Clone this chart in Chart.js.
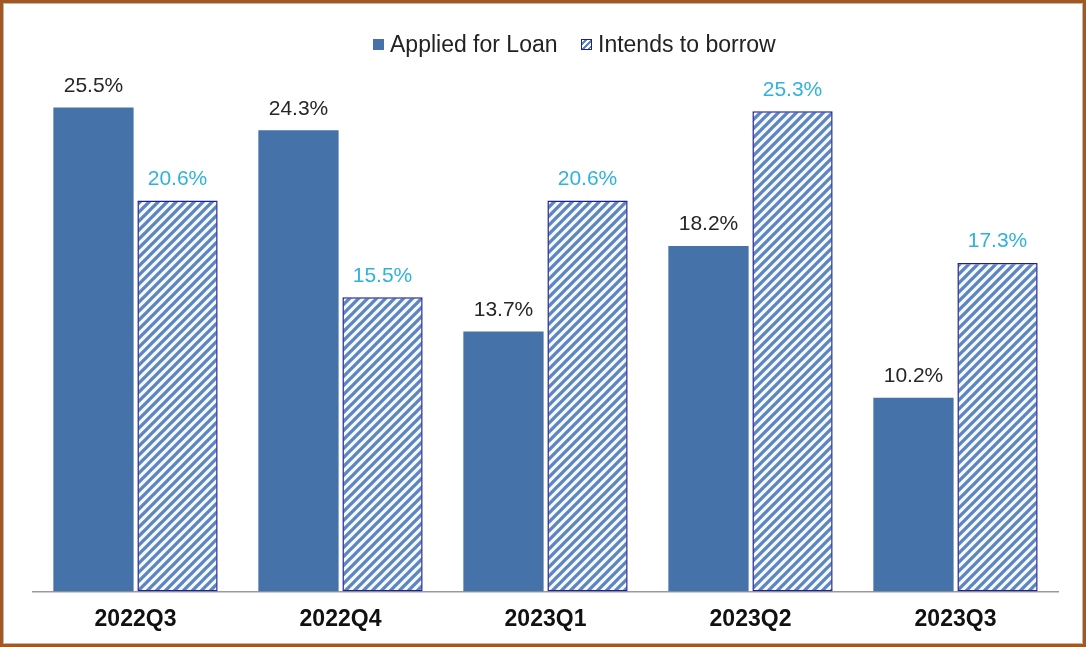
<!DOCTYPE html>
<html lang="en">
<head>
    <meta charset="UTF-8">
    <title>Loan applications and borrowing intentions</title>
    <style>
        html, body { margin: 0; padding: 0; background: #fff; }
        .frame {
            position: relative;
            width: 1086px;
            height: 647px;
            overflow: hidden;
            font-family: "Liberation Sans", Arial, sans-serif;
        }
        .frame canvas { position: absolute; left: 0; top: 0; }
        .border {
            position: absolute; left: 0; top: 0; right: 0; bottom: 0;
            border: 3px solid #a4581f;
            box-shadow: inset 0 0 0 1px #b8b8b8;
            pointer-events: none;
        }
        .legend-item {
            position: absolute;
            top: 31px;
            display: flex;
            align-items: center;
            font-size: 23px;
            color: #222;
            white-space: nowrap;
        }
        .legend-item .swatch {
            display: inline-block;
            width: 11px;
            height: 11px;
            box-sizing: border-box;
            margin-right: 6px;
        }
    </style>
</head>
<body>
    <div class="frame">
        <canvas id="barChart" width="1086" height="647"></canvas>
        <div id="legend"></div>
        <div class="border"></div>
    </div>

    <script src="https://cdn.jsdelivr.net/npm/chart.js"></script>
    <script>
        // quarters and the two survey series (percent of respondents)
        const quarters = ['2022Q3', '2022Q4', '2023Q1', '2023Q2', '2023Q3'];
        const appliedForLoan = [25.5, 24.3, 13.7, 18.2, 10.2];
        const intendsToBorrow = [20.6, 15.5, 20.6, 25.3, 17.3];
        const seriesNames = ['Applied for Loan', 'Intends to borrow'];

        const solidBlue = '#4672aa';
        const stripeBlue = '#5d85c1';
        const navy = '#1f1f96';
        const labelDark = '#262626';
        const labelCyan = '#2fb3da';

        // diagonal hatch for the second series
        function makeHatch() {
            const size = 9;
            const c = document.createElement('canvas');
            c.width = size;
            c.height = size;
            const g = c.getContext('2d');
            g.fillStyle = '#f6faff';
            g.fillRect(0, 0, size, size);
            g.strokeStyle = stripeBlue;
            g.lineWidth = 3.3;
            g.beginPath();
            g.moveTo(-2, size + 2); g.lineTo(size + 2, -2);
            g.moveTo(-3, 3); g.lineTo(3, -3);
            g.moveTo(size - 3, size + 3); g.lineTo(size + 3, size - 3);
            g.stroke();
            return g.createPattern(c, 'repeat');
        }

        // value labels above each bar
        const valueLabels = {
            id: 'valueLabels',
            afterDatasetsDraw(chart) {
                const ctx = chart.ctx;
                ctx.save();
                ctx.font = '21px "Liberation Sans", Arial, sans-serif';
                ctx.textAlign = 'center';
                ctx.textBaseline = 'bottom';
                chart.data.datasets.forEach((ds, i) => {
                    const meta = chart.getDatasetMeta(i);
                    ctx.fillStyle = ds.labelColor;
                    meta.data.forEach((bar, j) => {
                        ctx.fillText(ds.data[j].toFixed(1) + '%', bar.x, bar.y - 11);
                    });
                });
                ctx.restore();
            }
        };

        const hatch = makeHatch();

        // html legend, one entry per series
        const legend = document.getElementById('legend');
        const legendLeft = [373, 581];
        const swatchStyle = [
            'background:' + solidBlue,
            'border:1.5px solid ' + navy + ';background:repeating-linear-gradient(135deg,#fff 0 2px,' + stripeBlue + ' 2px 4px)'
        ];
        seriesNames.forEach((name, i) => {
            const item = document.createElement('span');
            item.className = 'legend-item';
            item.style.left = legendLeft[i] + 'px';
            item.innerHTML = '<span class="swatch" style="' + swatchStyle[i] + '"></span>' + name;
            legend.appendChild(item);
        });

        const ctxBar = document.getElementById('barChart').getContext('2d');
        const barChart = new Chart(ctxBar, {
            type: 'bar',
            data: {
                labels: quarters,
                datasets: [{
                    label: seriesNames[0],
                    data: appliedForLoan,
                    backgroundColor: solidBlue,
                    borderWidth: 0,
                    labelColor: labelDark
                }, {
                    label: seriesNames[1],
                    data: intendsToBorrow,
                    backgroundColor: hatch,
                    borderColor: navy,
                    borderWidth: 1.5,
                    borderSkipped: false,
                    labelColor: labelCyan
                }]
            },
            options: {
                responsive: false,
                animation: false,
                categoryPercentage: 0.82,
                barPercentage: 0.955,
                layout: {
                    padding: { left: 33, right: 28, top: 60, bottom: 0 }
                },
                plugins: {
                    legend: { display: false },
                    tooltip: { enabled: false }
                },
                scales: {
                    x: {
                        grid: { display: false, drawTicks: false },
                        border: { display: true, color: '#9a9a9a', width: 1.5 },
                        ticks: {
                            padding: 14,
                            color: '#111',
                            font: { family: '"Liberation Sans", Arial, sans-serif', size: 23, weight: 'bold' }
                        }
                    },
                    y: {
                        display: false,
                        min: 0,
                        max: 28
                    }
                }
            },
            plugins: [valueLabels]
        });
    </script>
</body>
</html>
